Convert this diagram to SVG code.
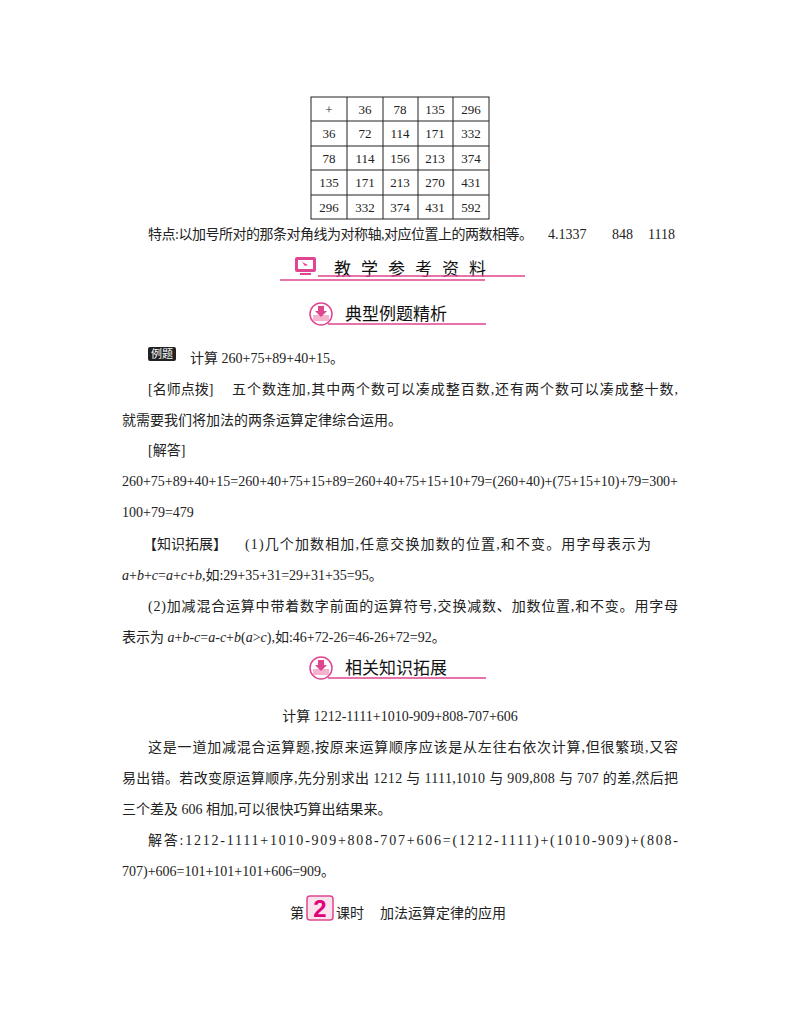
<svg xmlns="http://www.w3.org/2000/svg" width="800" height="1028" viewBox="0 0 800 1028">
<style>
.t{font-family:"Liberation Serif","Noto Sans CJK SC",serif;font-size:14px;fill:#222}
.c{font-family:"Liberation Serif","Noto Sans CJK SC",serif;font-size:13px;fill:#222;text-anchor:middle}
.h{font-family:"Noto Sans CJK SC",sans-serif;font-size:17px;fill:#111}
.g line{stroke:#222;stroke-width:1}
.pk{stroke:#e0458f;stroke-width:1.3}
</style>
<rect width="800" height="1028" fill="#fff"/>
<g id="table" class="g">
<rect x="311" y="97" width="178" height="122" fill="none" stroke="#222"/>
<line x1="347" y1="97" x2="347" y2="219"/><line x1="383" y1="97" x2="383" y2="219"/><line x1="418" y1="97" x2="418" y2="219"/><line x1="453" y1="97" x2="453" y2="219"/>
<line x1="311" y1="121" x2="489" y2="121"/><line x1="311" y1="146" x2="489" y2="146"/><line x1="311" y1="170" x2="489" y2="170"/><line x1="311" y1="195" x2="489" y2="195"/>
<g class="c">
<text x="329" y="114">+</text><text x="365" y="114">36</text><text x="400" y="114">78</text><text x="435" y="114">135</text><text x="471" y="114">296</text>
<text x="329" y="138">36</text><text x="365" y="138">72</text><text x="400" y="138">114</text><text x="435" y="138">171</text><text x="471" y="138">332</text>
<text x="329" y="163">78</text><text x="365" y="163">114</text><text x="400" y="163">156</text><text x="435" y="163">213</text><text x="471" y="163">374</text>
<text x="329" y="187">135</text><text x="365" y="187">171</text><text x="400" y="187">213</text><text x="435" y="187">270</text><text x="471" y="187">431</text>
<text x="329" y="212">296</text><text x="365" y="212">332</text><text x="400" y="212">374</text><text x="435" y="212">431</text><text x="471" y="212">592</text>
</g>
</g>
<text class="t" x="148" y="239" textLength="385">特点:以加号所对的那条对角线为对称轴,对应位置上的两数相等。</text>
<text class="t" x="548" y="239">4.1337</text>
<text class="t" x="612" y="239">848</text>
<text class="t" x="648" y="239">1118</text>
<g id="sec1">
<rect x="295" y="257" width="21" height="15" rx="2" fill="#e0458f"/><rect x="298" y="260" width="15" height="9" fill="#fff"/><path d="M302 262 l6 3 -3 1 z" fill="#e0458f"/><rect x="300" y="273" width="11" height="2" fill="#e0458f"/>
<text class="h" x="334" y="275" font-size="18" letter-spacing="10" fill="#333">教学参考资料</text>
<line class="pk" x1="280" y1="280" x2="485" y2="280"/><line class="pk" x1="318" y1="276" x2="525" y2="276"/>
</g>
<g id="sec2">
<circle cx="321" cy="314" r="11" fill="#fff" stroke="#e0458f" stroke-width="1.5"/><rect x="313" y="315" width="16" height="6" fill="#f5b3d0"/><path d="M318 306 h6 v5 h3 l-6 6 -6 -6 h3z" fill="#e0458f"/>
<text class="h" x="345" y="320">典型例题精析</text>
<line class="pk" x1="328" y1="324" x2="486" y2="324"/>
</g>
<rect x="148" y="347" width="28" height="14" rx="2" fill="#222"/>
<text x="162" y="358" font-family="Noto Sans CJK SC,sans-serif" font-size="11" fill="#fff" text-anchor="middle">例题</text>
<text class="t" x="190" y="363">计算 260+75+89+40+15。</text>
<text class="t" x="148" y="394">[名师点拨]</text>
<text class="t" x="232" y="394" textLength="446">五个数连加,其中两个数可以凑成整百数,还有两个数可以凑成整十数,</text>
<text class="t" x="122" y="425">就需要我们将加法的两条运算定律综合运用。</text>
<text class="t" x="148" y="455">[解答]</text>
<text class="t" x="122" y="486" textLength="556">260+75+89+40+15=260+40+75+15+89=260+40+75+15+10+79=(260+40)+(75+15+10)+79=300+</text>
<text class="t" x="122" y="517">100+79=479</text>
<text class="t" x="143" y="549">【知识拓展】</text>
<text class="t" x="245" y="549" textLength="406">(1)几个加数相加,任意交换加数的位置,和不变。用字母表示为</text>
<text class="t" x="122" y="580"><tspan font-style="italic">a</tspan>+<tspan font-style="italic">b</tspan>+<tspan font-style="italic">c</tspan>=<tspan font-style="italic">a</tspan>+<tspan font-style="italic">c</tspan>+<tspan font-style="italic">b</tspan>,如:29+35+31=29+31+35=95。</text>
<text class="t" x="148" y="611" textLength="530">(2)加减混合运算中带着数字前面的运算符号,交换减数、加数位置,和不变。用字母</text>
<text class="t" x="122" y="642">表示为 <tspan font-style="italic">a</tspan>+<tspan font-style="italic">b</tspan>-<tspan font-style="italic">c</tspan>=<tspan font-style="italic">a</tspan>-<tspan font-style="italic">c</tspan>+<tspan font-style="italic">b</tspan>(<tspan font-style="italic">a</tspan>&gt;<tspan font-style="italic">c</tspan>),如:46+72-26=46-26+72=92。</text>
<g id="sec3">
<circle cx="321" cy="668" r="11" fill="#fff" stroke="#e0458f" stroke-width="1.5"/><rect x="313" y="669" width="16" height="6" fill="#f5b3d0"/><path d="M318 660 h6 v5 h3 l-6 6 -6 -6 h3z" fill="#e0458f"/>
<text class="h" x="345" y="674">相关知识拓展</text>
<line class="pk" x1="328" y1="678" x2="486" y2="678"/>
</g>
<text class="t" x="400" y="721" text-anchor="middle">计算 1212-1111+1010-909+808-707+606</text>
<text class="t" x="148" y="752" textLength="530">这是一道加减混合运算题,按原来运算顺序应该是从左往右依次计算,但很繁琐,又容</text>
<text class="t" x="122" y="783" textLength="556">易出错。若改变原运算顺序,先分别求出 1212 与 1111,1010 与 909,808 与 707 的差,然后把</text>
<text class="t" x="122" y="814">三个差及 606 相加,可以很快巧算出结果来。</text>
<text class="t" x="148" y="845" textLength="530">解答:1212-1111+1010-909+808-707+606=(1212-1111)+(1010-909)+(808-</text>
<text class="t" x="122" y="876">707)+606=101+101+101+606=909。</text>
<g id="footer">
<text class="t" x="290" y="918">第</text>
<rect x="307" y="896" width="26" height="24" rx="3" fill="#fbe3ee" stroke="#e0458f" stroke-width="1.5"/>
<text x="320" y="917" font-family="Liberation Sans,sans-serif" font-weight="bold" font-size="24" fill="#e0007a" text-anchor="middle">2</text>
<text class="t" x="336" y="918">课时</text>
<text class="t" x="380" y="918">加法运算定律的应用</text>
</g>
</svg>
